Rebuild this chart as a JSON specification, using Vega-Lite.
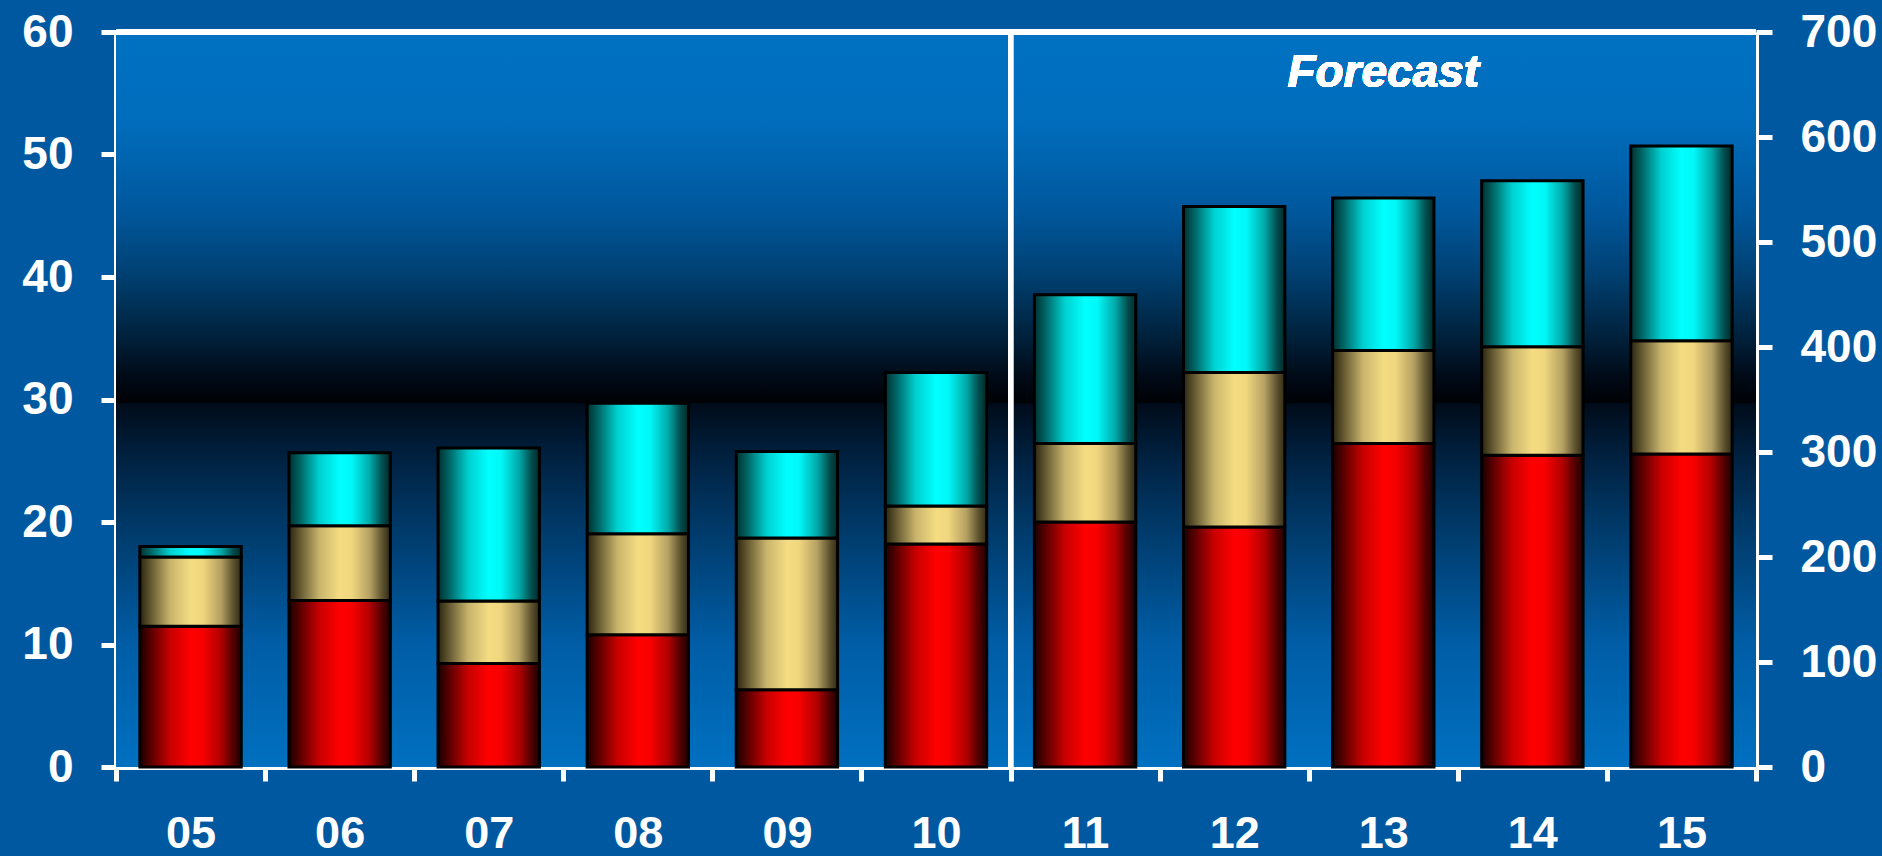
{
  "$schema": "https://vega.github.io/schema/vega-lite/v6.json",
  "width": 1640,
  "height": 735,
  "autosize": {"type": "none"},
  "padding": {"left": 116, "top": 32, "right": 126, "bottom": 89},
  "background": "#0059A0",
  "config": {
    "view": {"stroke": null},
    "axis": {
      "labelFont": "Liberation Sans",
      "labelFontWeight": "bold",
      "labelFontSize": 46,
      "labelColor": "white",
      "tickColor": "white",
      "tickWidth": 5,
      "tickSize": 15,
      "domainColor": "white",
      "domainWidth": 5,
      "grid": false,
      "zindex": 1,
      "labelOverlap": false,
      "labelFlush": false
    }
  },
  "data": {
    "values": [
      {"year": "05", "segment": "A", "order": 1, "value": 11.5},
      {"year": "05", "segment": "B", "order": 2, "value": 5.65},
      {"year": "05", "segment": "C", "order": 3, "value": 0.85},
      {"year": "06", "segment": "A", "order": 1, "value": 13.6},
      {"year": "06", "segment": "B", "order": 2, "value": 6.1},
      {"year": "06", "segment": "C", "order": 3, "value": 5.95},
      {"year": "07", "segment": "A", "order": 1, "value": 8.45},
      {"year": "07", "segment": "B", "order": 2, "value": 5.1},
      {"year": "07", "segment": "C", "order": 3, "value": 12.5},
      {"year": "08", "segment": "A", "order": 1, "value": 10.8},
      {"year": "08", "segment": "B", "order": 2, "value": 8.25},
      {"year": "08", "segment": "C", "order": 3, "value": 10.65},
      {"year": "09", "segment": "A", "order": 1, "value": 6.3},
      {"year": "09", "segment": "B", "order": 2, "value": 12.4},
      {"year": "09", "segment": "C", "order": 3, "value": 7.05},
      {"year": "10", "segment": "A", "order": 1, "value": 18.2},
      {"year": "10", "segment": "B", "order": 2, "value": 3.1},
      {"year": "10", "segment": "C", "order": 3, "value": 10.9},
      {"year": "11", "segment": "A", "order": 1, "value": 20.0},
      {"year": "11", "segment": "B", "order": 2, "value": 6.4},
      {"year": "11", "segment": "C", "order": 3, "value": 12.15},
      {"year": "12", "segment": "A", "order": 1, "value": 19.6},
      {"year": "12", "segment": "B", "order": 2, "value": 12.6},
      {"year": "12", "segment": "C", "order": 3, "value": 13.55},
      {"year": "13", "segment": "A", "order": 1, "value": 26.4},
      {"year": "13", "segment": "B", "order": 2, "value": 7.6},
      {"year": "13", "segment": "C", "order": 3, "value": 12.45},
      {"year": "14", "segment": "A", "order": 1, "value": 25.45},
      {"year": "14", "segment": "B", "order": 2, "value": 8.85},
      {"year": "14", "segment": "C", "order": 3, "value": 13.55},
      {"year": "15", "segment": "A", "order": 1, "value": 25.55},
      {"year": "15", "segment": "B", "order": 2, "value": 9.25},
      {"year": "15", "segment": "C", "order": 3, "value": 15.9}
    ]
  },
  "layer": [
    {
      "layer": [
        {
          "data": {"values": [{"area": "plot"}]},
          "mark": {
            "type": "rect",
            "fill": {
              "gradient": "linear",
              "x1": 0, "y1": 0, "x2": 0, "y2": 1,
              "stops": [
                {"offset": 0, "color": "#0071C2"},
                {"offset": 0.12, "color": "#006DBC"},
                {"offset": 0.18, "color": "#0063AE"},
                {"offset": 0.25, "color": "#00569A"},
                {"offset": 0.333, "color": "#003F70"},
                {"offset": 0.417, "color": "#00203A"},
                {"offset": 0.47, "color": "#000A16"},
                {"offset": 0.503, "color": "#000206"},
                {"offset": 0.507, "color": "#000C1A"},
                {"offset": 0.583, "color": "#002242"},
                {"offset": 0.667, "color": "#003866"},
                {"offset": 0.833, "color": "#005DA6"},
                {"offset": 1, "color": "#0070C0"}
              ]
            }
          },
          "encoding": {
            "y": {"datum": 0, "type": "quantitative", "scale": {"domain": [0, 60], "nice": false}},
            "y2": {"datum": 60}
          }
        },
        {
          "transform": [
            {"stack": "value", "groupby": ["year"], "sort": [{"field": "order", "order": "ascending"}], "as": ["y0", "y1"]}
          ],
          "layer": [
            {
              "transform": [{"filter": "datum.segment === 'A'"}],
              "mark": {
                "type": "bar",
                "width": {"band": 0.68},
                "stroke": "black",
                "strokeWidth": 3,
                "fill": {
                  "gradient": "linear",
                  "x1": 0, "y1": 0, "x2": 1, "y2": 0,
                  "stops": [
                    {"offset": 0, "color": "#1A0000"},
                    {"offset": 0.12, "color": "#600000"},
                    {"offset": 0.3, "color": "#C80000"},
                    {"offset": 0.5, "color": "#FF0000"},
                    {"offset": 0.62, "color": "#F80000"},
                    {"offset": 0.8, "color": "#B00000"},
                    {"offset": 0.92, "color": "#500000"},
                    {"offset": 1, "color": "#200000"}
                  ]
                }
              },
              "encoding": {
                "x": {
                  "field": "year",
                  "type": "ordinal",
                  "scale": {"type": "band", "paddingInner": 0, "paddingOuter": 0},
                  "axis": {"title": null, "labelAngle": 0, "tickBand": "extent", "tickSize": 14, "labelPadding": 30, "labelFontSize": 45, "labelBaseline": "top"}
                },
                "y": {
                  "field": "y0",
                  "type": "quantitative",
                  "scale": {"domain": [0, 60], "nice": false},
                  "axis": {"title": null, "orient": "left", "values": [0, 10, 20, 30, 40, 50, 60], "labelPadding": 28}
                },
                "y2": {"field": "y1"}
              }
            },
            {
              "transform": [{"filter": "datum.segment === 'B'"}],
              "mark": {
                "type": "bar",
                "width": {"band": 0.68},
                "stroke": "black",
                "strokeWidth": 3,
                "fill": {
                  "gradient": "linear",
                  "x1": 0, "y1": 0, "x2": 1, "y2": 0,
                  "stops": [
                    {"offset": 0, "color": "#2A2510"},
                    {"offset": 0.12, "color": "#6A5E34"},
                    {"offset": 0.3, "color": "#C8B46C"},
                    {"offset": 0.5, "color": "#F5DC82"},
                    {"offset": 0.62, "color": "#F0D67E"},
                    {"offset": 0.8, "color": "#B4A062"},
                    {"offset": 0.92, "color": "#5E5330"},
                    {"offset": 1, "color": "#302A14"}
                  ]
                }
              },
              "encoding": {
                "x": {"field": "year", "type": "ordinal"},
                "y": {"field": "y0", "type": "quantitative", "axis": {"title": null}},
                "y2": {"field": "y1"}
              }
            },
            {
              "transform": [{"filter": "datum.segment === 'C'"}],
              "mark": {
                "type": "bar",
                "width": {"band": 0.68},
                "stroke": "black",
                "strokeWidth": 3,
                "fill": {
                  "gradient": "linear",
                  "x1": 0, "y1": 0, "x2": 1, "y2": 0,
                  "stops": [
                    {"offset": 0, "color": "#003030"},
                    {"offset": 0.12, "color": "#006A6A"},
                    {"offset": 0.3, "color": "#00D0D0"},
                    {"offset": 0.5, "color": "#00FFFF"},
                    {"offset": 0.62, "color": "#00F8F8"},
                    {"offset": 0.8, "color": "#00A8A8"},
                    {"offset": 0.92, "color": "#004E4E"},
                    {"offset": 1, "color": "#002828"}
                  ]
                }
              },
              "encoding": {
                "x": {"field": "year", "type": "ordinal"},
                "y": {"field": "y0", "type": "quantitative", "axis": {"title": null}},
                "y2": {"field": "y1"}
              }
            }
          ]
        },
        {
          "mark": {"type": "rule", "color": "white", "strokeWidth": 5},
          "encoding": {
            "x": {"datum": "11", "type": "ordinal", "bandPosition": 0}
          }
        },
        {
          "mark": {"type": "rule", "color": "white", "strokeWidth": 5},
          "encoding": {
            "y": {"datum": 60, "type": "quantitative"}
          }
        },
        {
          "mark": {
            "type": "text",
            "text": "Forecast",
            "font": "Liberation Sans",
            "fontSize": 46,
            "fontWeight": "bold",
            "fontStyle": "italic",
            "color": "white",
            "align": "center",
            "baseline": "alphabetic"
          },
          "encoding": {
            "x": {"datum": "13", "type": "ordinal"},
            "y": {"datum": 55.5, "type": "quantitative"}
          }
        }
      ]
    },
    {
      "data": {"values": [{"axis": "right"}]},
      "mark": {"type": "rule", "strokeOpacity": 0},
      "encoding": {
        "y": {
          "datum": 0,
          "type": "quantitative",
          "scale": {"domain": [0, 700], "nice": false},
          "axis": {"title": null, "orient": "right", "values": [0, 100, 200, 300, 400, 500, 600, 700], "labelPadding": 28, "tickSize": 16}
        }
      }
    }
  ],
  "resolve": {"scale": {"y": "independent"}}
}
